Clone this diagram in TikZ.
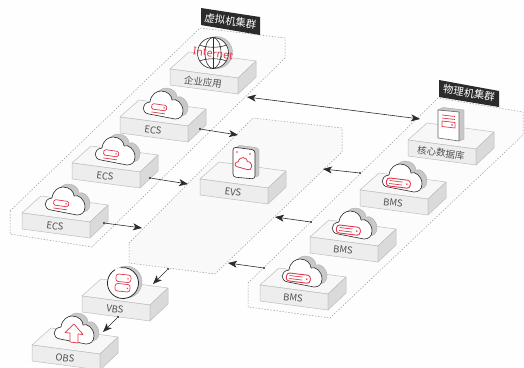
\documentclass[tikz,border=0pt]{standalone}
\usepackage{fontspec}
\setmainfont{Noto Sans}
\newfontfamily\cjk{Noto Sans CJK SC}
\usetikzlibrary{arrows.meta,calc}
\definecolor{bgc}{HTML}{FEFEFE}
\definecolor{zonec}{HTML}{F9F9F9}
\definecolor{sidezonec}{HTML}{FCFCFC}
\definecolor{topc}{HTML}{F7F7F7}
\definecolor{frontc}{HTML}{EDEDED}
\definecolor{sidec}{HTML}{DADADA}
\definecolor{edgec}{HTML}{BEBEBE}
\definecolor{redc}{HTML}{E0384A}
\definecolor{shadec}{HTML}{C8C8C8}
\definecolor{inkc}{HTML}{2B2B2B}
\definecolor{textc}{HTML}{505050}
\tikzset{
  zone/.style={draw=black!40,dash pattern=on 1.4pt off 1.6pt,line width=.5pt},
  boxface/.style={draw=edgec,line width=.5pt,line join=round},
  boxlabel/.style={text=textc,font=\fontsize{9.5}{11}\selectfont\cjk,rotate=-7.5,inner sep=0pt},
  tagbox/.style={fill=inkc,draw=none},
  taglabel/.style={text=white,font=\fontsize{10.4}{12}\selectfont\cjk,inner sep=0pt},
  iconline/.style={draw=inkc,line width=.6pt,line join=round},
  shade/.style={fill=shadec,draw=black!35,line width=.3pt},
  redline/.style={draw=redc,line width=.7pt,line join=round},
  dotnode/.style={circle,fill=inkc,inner sep=0pt,minimum size=2.4pt},
  link/.style={draw=inkc,line width=.6pt,-{Stealth[length=9pt,width=7pt,inset=2.5pt]}},
  biglink/.style={draw=inkc,line width=.6pt,{Stealth[length=9pt,width=7pt,inset=2.5pt]}-{Stealth[length=9pt,width=7pt,inset=2.5pt]}},
}
\newcommand{\isobox}[4]{%
  \begin{scope}[shift={(#2,#3)}]
    \path[boxface,fill=topc] (0,0) -- (19,-17) -- (86,-8) -- (68,9) -- cycle;
    \path[boxface,fill=frontc] (0,0) -- (68,9) -- (68,25) -- (0,16) -- cycle;
    \path[boxface,fill=sidec] (68,9) -- (86,-8) -- (86,8) -- (68,25) -- cycle;
    \node[boxlabel] (#1) at (33,13) {#4};
  \end{scope}}
\newcommand{\cloudpath}{(-14,9) .. controls (-22,8) and (-22,-2) .. (-13,-3) .. controls (-12,-11) and (-6,-14) .. (-2,-14) .. controls (5,-14) and (9,-9) .. (9,-5) .. controls (13,-7) and (20,-2) .. (20,6) .. controls (20,12) and (16,14) .. (12,14) -- cycle}
\newcommand{\cloudicon}[2]{%
  \begin{scope}[shift={(#1,#2)}]
    \path[shade,shift={(5,-3)}] \cloudpath;
    \path[iconline,fill=white] \cloudpath;
  \end{scope}}
\newcommand{\ecsicon}[2]{%
  \cloudicon{#1}{#2}
  \begin{scope}[shift={(#1,#2)},rotate=-8]
    \path[redline,rounded corners=1.5pt] (-11,0) rectangle (4,5.5);
    \fill[redc] (1.5,2.7) circle (.8);
    \path[redline] (-10.5,8.5) -- (3,8.5);
  \end{scope}}
\newcommand{\bmsicon}[2]{%
  \cloudicon{#1}{#2}
  \begin{scope}[shift={(#1,#2)},rotate=-7]
    \path[redline,line width=.9pt,rounded corners=3pt] (-15,1.5) rectangle (9,9.5);
    \path[redline] (-12,4) -- (1,4) (-12,7) -- (1,7);
    \fill[redc] (5.5,5.5) circle (.9);
  \end{scope}}
\begin{document}
\begin{tikzpicture}[x=1pt,y=-1pt]
\useasboundingbox (0,0) rectangle (524,367);
\fill[bgc] (0,0) rectangle (524,367);
% zones
\path[zone,fill=sidezonec] (10,211) -- (200,28) -- (285,38) -- (285,58) -- (92,247) -- (10,234) -- cycle;
\path[zone,fill=zonec] (129,243) -- (253,118) -- (342,128) -- (342,152) -- (215,274) -- (129,263) -- cycle;
\path[zone,fill=sidezonec] (248,283) -- (438,98) -- (523,112) -- (523,135) -- (330,318) -- (248,307) -- cycle;
% tags
\path[tagbox] (201,8) -- (260,17) -- (260,35) -- (201,25) -- cycle;
\node[taglabel,rotate=-8.5] (tagv) at (230.5,21) {虚拟机集群};
\path[tagbox] (439,80) -- (499,91) -- (499,107) -- (439,97) -- cycle;
\node[taglabel,rotate=-9] (tagp) at (469,93) {物理机集群};
% boxes
\isobox{app}{170}{69}{企业应用}
\isobox{ecsa}{120}{117}{ECS}
\isobox{ecsb}{72}{163}{ECS}
\isobox{ecsc}{22}{213}{ECS}
\isobox{evs}{200}{179}{EVS}
\isobox{db}{408}{140}{核心数据库}
\isobox{bmsa}{360}{190}{BMS}
\isobox{bmsb}{310}{237}{BMS}
\isobox{bmsc}{260}{285}{BMS}
\isobox{vbs}{82}{296}{VBS}
\isobox{obs}{32}{345}{OBS}
% globe
\begin{scope}[shift={(213,53)}]
  \fill[shadec,draw=black!35,line width=.3pt] (3.5,-.5) circle (16);
  \fill[white] (0,0) circle (15.5);
  \draw[iconline] (0,0) circle (15.5);
  \draw[iconline] (0,0) ellipse (8 and 15.5);
  \draw[iconline] (0,-15.5) -- (0,15.5);
  \draw[iconline] (-13.5,-8) .. controls (-6,-5) and (6,-5) .. (13.5,-8);
  \draw[iconline] (-13.5,8) .. controls (-6,5) and (6,5) .. (13.5,8);
  \node[text=redc,font=\fontsize{10.5}{12}\selectfont,rotate=-7,inner sep=0pt] (inet) at (0,0.5) {Internet};
\end{scope}
% clouds
\ecsicon{163}{105}
\ecsicon{115}{151}
\ecsicon{65}{201}
\bmsicon{402}{178}
\bmsicon{352}{225}
\bmsicon{302}{273}
% server
\path[fill=shadec,draw=black!40,line width=.3pt] (438,110) -- (443,107.5) -- (464,110) -- (464,139) -- (459,141) -- (459,112) -- cycle;
\path[iconline,draw=black!60,fill=white] (438,110) -- (459,112) -- (459,141) -- (438,138) -- cycle;
\path[redline] (442,115) -- (455,116.5) (442,118) -- (455,119.5);
\path[redline] (442,121) -- (455,122.5) -- (455,128) -- (442,126.5) -- cycle;
\fill[redc] (452,125) circle (.8);
% EVS tablet
\path[shade,rounded corners=3pt] (237,145) -- (259,148) -- (259,177) -- (237,175) -- cycle;
\path[iconline,fill=white,rounded corners=3pt] (233,147) -- (255,150) -- (255,179) -- (233,177) -- cycle;
\fill[redc] (237,152) circle (.8) (250,154) circle (.8);
\begin{scope}[shift={(243.5,163.5)},scale=.42,rotate=-5]
  \path[redline,line width=.8pt] \cloudpath;
\end{scope}
% VBS
\begin{scope}[shift={(123,283)}]
  \fill[shadec,draw=black!35,line width=.3pt] (3,-1) circle (16);
  \fill[white] (0,0) circle (15.5);
  \draw[iconline,line width=.8pt] (-8,-13.3) arc (239:-99:15.5);
  \path[redline,rounded corners=2.5pt,rotate=-6] (-7.5,-8.5) rectangle (7.5,-1);
  \path[redline,rounded corners=2.5pt,rotate=-6] (-7.5,1) rectangle (7.5,8.5);
  \fill[redc] (5,-4.2) circle (.8) (4.5,5.3) circle (.8);
\end{scope}
% OBS
\cloudicon{74}{330}
\path[redline,fill=white] (70,333) -- (70,342) -- (78,343) -- (78,334) -- (83,334.5) -- (74,324) -- (65,332.5) -- cycle;
% connectors
\coordinate (tapp) at (247,97);
\coordinate (tdb) at (420,119);
\path[biglink] (tapp) -- (tdb);
\node[dotnode] (da) at (200,129) {};
\coordinate (ta) at (238,135);
\path[link] (da) -- (ta);
\node[dotnode] (db2) at (150,178) {};
\coordinate (tb) at (188,184);
\path[link] (db2) -- (tb);
\node[dotnode] (dc) at (104,223) {};
\coordinate (tc) at (142,228);
\path[link] (dc) -- (tc);
\node[dotnode] (de) at (360,173) {};
\coordinate (te) at (323,169);
\path[link] (de) -- (te);
\node[dotnode] (df) at (311,222) {};
\coordinate (tf) at (275,217);
\path[link] (df) -- (tf);
\node[dotnode] (dg) at (264,268) {};
\coordinate (tg) at (228,263);
\path[link] (dg) -- (tg);
\node[dotnode] (dh) at (168,269) {};
\coordinate (th) at (153,284);
\path[link] (dh) -- (th);
\node[dotnode] (di) at (118,317) {};
\coordinate (ti) at (103,332);
\path[link] (di) -- (ti);
\end{tikzpicture}
\end{document}
